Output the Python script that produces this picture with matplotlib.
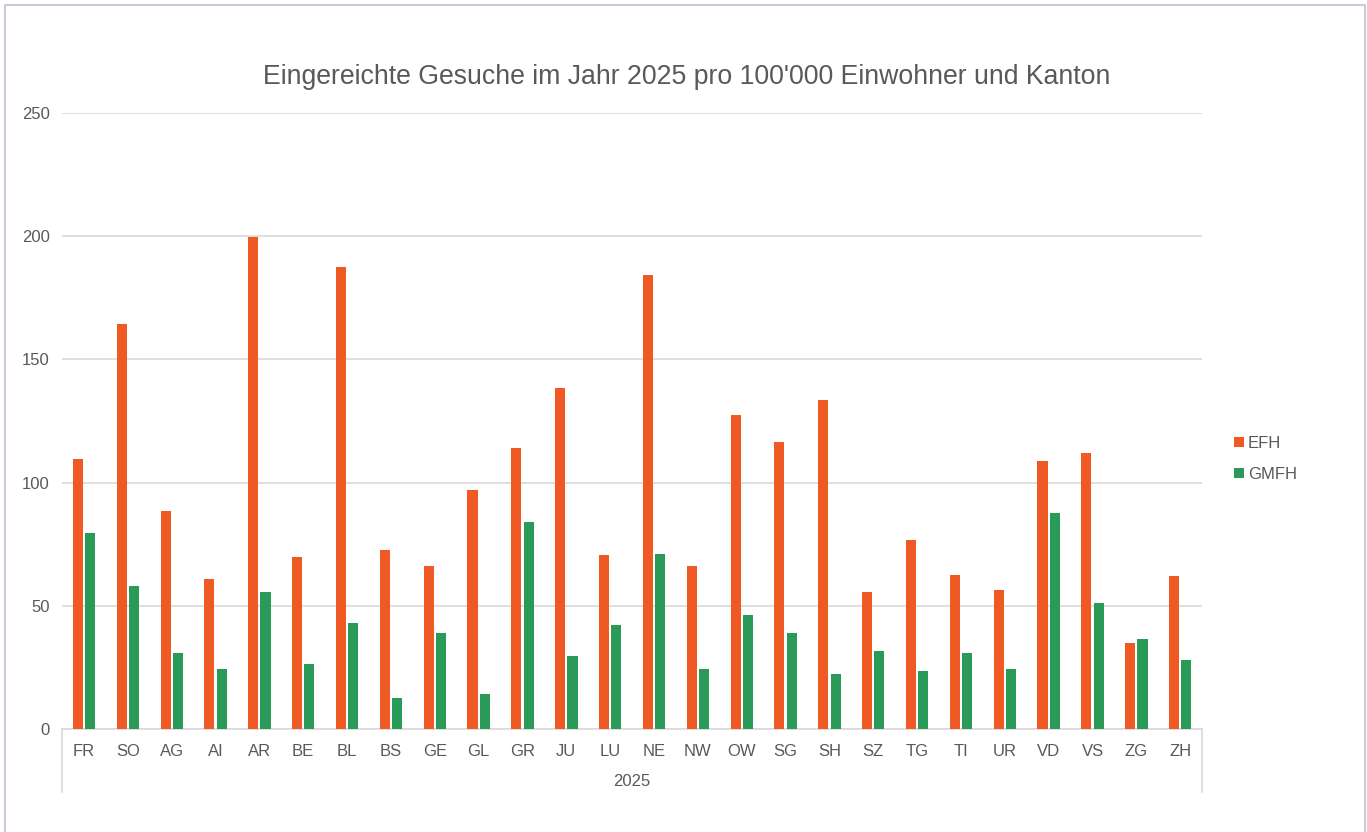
import numpy as np
import matplotlib.pyplot as plt
from matplotlib.patches import Rectangle

plt.rcParams['font.family'] = ['Liberation Sans', 'DejaVu Sans']

# Daten
kantone = ['FR', 'SO', 'AG', 'AI', 'AR', 'BE', 'BL', 'BS', 'GE', 'GL', 'GR', 'JU', 'LU',
           'NE', 'NW', 'OW', 'SG', 'SH', 'SZ', 'TG', 'TI', 'UR', 'VD', 'VS', 'ZG', 'ZH']
efh = [109.5, 164.2, 88.5, 60.9, 199.5, 69.9, 187.3, 72.6, 66.0, 96.9, 114.1, 138.4, 70.5,
       184.3, 66.0, 127.6, 116.6, 133.7, 55.5, 76.7, 62.4, 56.4, 108.7, 112.1, 35.1, 62.0]
gmfh = [79.6, 58.2, 30.7, 24.2, 55.5, 26.4, 43.2, 12.5, 39.1, 14.1, 84.0, 29.6, 42.4,
        71.1, 24.5, 46.4, 39.1, 22.2, 31.7, 23.4, 30.7, 24.2, 87.5, 51.1, 36.7, 28.0]
jahr = '2025'
titel = "Eingereichte Gesuche im Jahr 2025 pro 100'000 Einwohner und Kanton"

orange = '#EF5A24'
gruen = '#2A9A58'
grau = '#595959'

fig = plt.figure(figsize=(13.67, 8.32), dpi=100)
ax = fig.add_axes([0.0454, 0.1238, 0.834, 0.7404])

x = np.arange(len(kantone))
w = 0.23
ax.bar(x - 0.14, efh, width=w, color=orange, label='EFH', zorder=3)
ax.bar(x + 0.14, gmfh, width=w, color=gruen, label='GMFH', zorder=3)

ax.set_xlim(-0.5, len(kantone) - 0.5)
ax.set_ylim(0, 250)
ax.set_yticks([0, 50, 100, 150, 200, 250])
ax.grid(axis='y', color='#d9d9d9', linewidth=1.2, zorder=0)

ax.set_xticks(x)
ax.set_xticklabels(kantone)
ax.tick_params(axis='x', length=0, pad=11, labelsize=12, labelcolor=grau)
ax.tick_params(axis='y', length=0, pad=9, labelsize=12, labelcolor=grau)

for s in ['top', 'right', 'left']:
    ax.spines[s].set_visible(False)
ax.spines['bottom'].set_color('#d9d9d9')
ax.spines['bottom'].set_linewidth(1.2)

# Gruppenachse mit Jahr
for xa in [0, 1]:
    ax.plot([xa, xa], [0, -0.102], transform=ax.transAxes, color='#d9d9d9',
            linewidth=1.2, clip_on=False)
ax.text(0.5, -0.085, jahr, transform=ax.transAxes, ha='center', va='center',
        fontsize=12, color=grau)

# Titel
fig.text(0.502, 0.908, titel, ha='center', va='center', fontsize=19.2, color=grau)

# Legende
fig.legend(loc='center left', bbox_to_anchor=(0.892, 0.448), frameon=False,
           fontsize=12, labelcolor=grau, handlelength=0.55, handleheight=0.55,
           handletextpad=0.25, labelspacing=0.95)

# Rahmen
fig.patches.append(Rectangle((5 / 1367, -0.01), 1360 / 1367, 1 - 5 / 832 + 0.01,
                             transform=fig.transFigure, fill=False,
                             edgecolor='#c5cdd8', linewidth=1.5))

fig.savefig('out.png', dpi=100)
